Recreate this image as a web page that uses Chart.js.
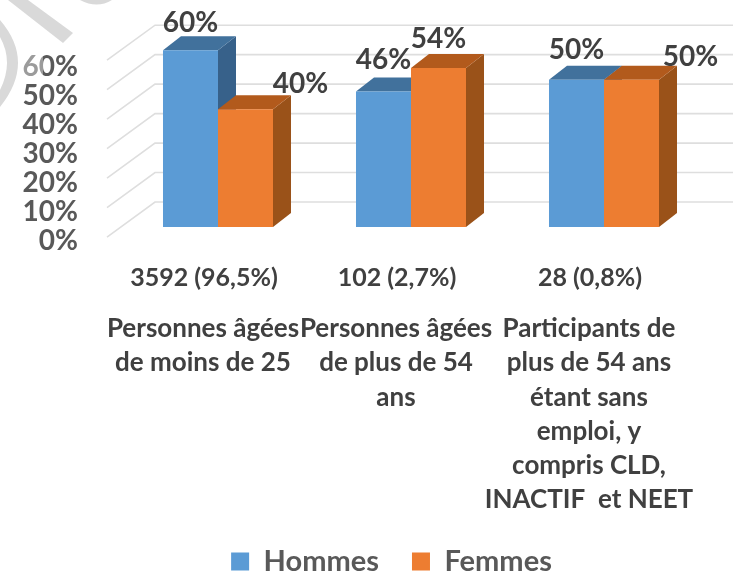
<!DOCTYPE html>
<html>
<head>
<meta charset="utf-8">
<style>
    html, body { margin: 0; padding: 0; background: #fff; }
    #wrap { width: 733px; height: 576px; }
</style>
<script src="https://cdn.jsdelivr.net/npm/chart.js@4/dist/chart.umd.min.js"></script>
</head>
<body>
<div id="wrap"><canvas id="chart" width="733" height="576"></canvas></div>
<script>
const counts = ['3592 (96,5%)', '102 (2,7%)', '28 (0,8%)'];
const categories = [
    ['Personnes âgées', 'de moins de 25'],
    ['Personnes âgées', 'de plus de 54', 'ans'],
    ['Participants de', 'plus de 54 ans', 'étant sans', 'emploi, y', 'compris CLD,', 'INACTIF  et NEET']
];
const hommes = [60, 46, 50];
const femmes = [40, 54, 50];
const tickValues = [0, 10, 20, 30, 40, 50, 60];

const FONT = 'Lato, "Open Sans", sans-serif';
const depthX = 18, depthY = 14;

// position des étiquettes par rapport au haut de chaque barre
const labelShift = [
    [[0, -27], [55, -25]],
    [[0, -31], [0, -29]],
    [[0, -30], [59, -23]]
];

function face(ctx, points, color) {
    ctx.fillStyle = color;
    ctx.beginPath();
    points.forEach((p, i) => i ? ctx.lineTo(p[0], p[1]) : ctx.moveTo(p[0], p[1]));
    ctx.closePath();
    ctx.fill();
}

// grille en perspective + faces du dessus et de côté, sous les barres
const bars3d = {
    id: 'bars3d',
    afterLayout(chart) {
        // la légende n'est pas centrée sur le canvas dans l'original
        chart.legend.left += 62.5;
    },
    beforeDatasetsDraw(chart) {
        const ctx = chart.ctx;
        const y = chart.scales.y;
        ctx.save();
        ctx.strokeStyle = '#dedede';
        ctx.lineWidth = 1.6;
        tickValues.forEach(v => {
            const back = y.getPixelForValue(v) - 25;
            ctx.beginPath();
            ctx.moveTo(107, back + 35);
            ctx.lineTo(155, back);
            ctx.lineTo(733, back);
            ctx.stroke();
        });
        chart.data.datasets.forEach((ds, i) => {
            chart.getDatasetMeta(i).data.forEach(bar => {
                const l = bar.x - bar.width / 2, r = bar.x + bar.width / 2;
                face(ctx, [[r, bar.y], [r + depthX, bar.y - depthY], [r + depthX, bar.base - depthY], [r, bar.base]], ds.sideColor);
                face(ctx, [[l, bar.y], [l + depthX, bar.y - depthY], [r + depthX, bar.y - depthY], [r, bar.y]], ds.topColor);
            });
        });
        ctx.restore();
    },
    afterDraw(chart) {
        const ctx = chart.ctx;
        ctx.save();
        ctx.font = 'bold 28px ' + FONT;
        ctx.fillStyle = '#404040';
        ctx.textAlign = 'center';
        ctx.textBaseline = 'middle';
        chart.data.datasets.forEach((ds, i) => {
            chart.getDatasetMeta(i).data.forEach((bar, j) => {
                const s = labelShift[j][i];
                ctx.fillText(ds.data[j] + '%', bar.x + s[0], bar.y + s[1]);
            });
        });
        // restes du filigrane en haut à gauche
        ctx.fillStyle = '#d9d9d9';
        face(ctx, [[28, 0], [73, 33], [63, 43], [8, 0]], '#d9d9d9');
        ctx.beginPath();
        ctx.moveTo(0, 20);
        ctx.quadraticCurveTo(36, 62, 0, 107);
        ctx.lineTo(0, 90);
        ctx.quadraticCurveTo(14, 62, 0, 37);
        ctx.closePath();
        ctx.fill();
        ctx.beginPath();
        ctx.moveTo(80, 0);
        ctx.quadraticCurveTo(97, 9, 112, 0);
        ctx.closePath();
        ctx.fill();
        ctx.fillStyle = 'rgba(255, 255, 255, 0.4)';
        ctx.fillRect(22, 53, 21, 25);
        ctx.restore();
    }
};

new Chart(document.getElementById('chart'), {
    type: 'bar',
    plugins: [bars3d],
    data: {
        labels: counts,
        datasets: [
            { label: 'Hommes', data: hommes, backgroundColor: '#5B9BD5', sideColor: '#37618A', topColor: '#41719C' },
            { label: 'Femmes', data: femmes, backgroundColor: '#ED7D31', sideColor: '#9A5219', topColor: '#B25A1C' }
        ]
    },
    options: {
        responsive: false,
        animation: false,
        layout: { padding: { left: 20, right: 32.5, top: 0, bottom: -10 } },
        plugins: {
            tooltip: { enabled: false },
            legend: {
                position: 'bottom',
                labels: {
                    boxWidth: 18,
                    boxHeight: 18,
                    padding: 33,
                    color: '#595959',
                    font: { family: FONT, size: 29, weight: 'bold' }
                }
            }
        },
        scales: {
            x: {
                display: false,
                offset: true
            },
            y: {
                display: false,
                min: -3.38,
                max: 77.03
            },
            xCount: {
                axis: 'x',
                type: 'category',
                position: 'bottom',
                offset: true,
                labels: counts,
                grid: { display: false, drawTicks: false },
                border: { display: false },
                ticks: {
                    autoSkip: false, maxRotation: 0, minRotation: 0,
                    padding: 26, labelOffset: -14, color: '#404040',
                    font: { family: FONT, size: 25, weight: 'bold' }
                },
                afterFit(axis) { axis.height = 75; }
            },
            xNames: {
                axis: 'x',
                type: 'category',
                position: 'bottom',
                offset: true,
                labels: categories,
                grid: { display: false, drawTicks: false },
                border: { display: false },
                ticks: {
                    autoSkip: false, maxRotation: 0, minRotation: 0,
                    padding: 0, labelOffset: -15, color: '#404040',
                    font: { family: FONT, size: 26, weight: 'bold', lineHeight: 1.31 }
                },
                afterFit(axis) { axis.height = 202; }
            },
            yTicks: {
                axis: 'y',
                position: 'left',
                min: 0,
                max: 81.5,
                grid: { display: false, drawTicks: false },
                border: { display: false },
                afterBuildTicks(axis) { axis.ticks = tickValues.map(value => ({ value })); },
                ticks: {
                    autoSkip: false,
                    padding: 43.5, labelOffset: 4, color: '#595959',
                    font: { family: FONT, size: 28, weight: 'bold' },
                    callback: v => v + '%'
                },
                afterFit(axis) {
                    axis.width = 101.5;
                    // sinon le padding des ticks réduit la zone du graphique
                    axis.paddingTop = 0;
                    axis.paddingBottom = 0;
                }
            }
        },
        datasets: { bar: { categoryPercentage: 0.57, barPercentage: 1 } }
    }
});
</script>
</body>
</html>
